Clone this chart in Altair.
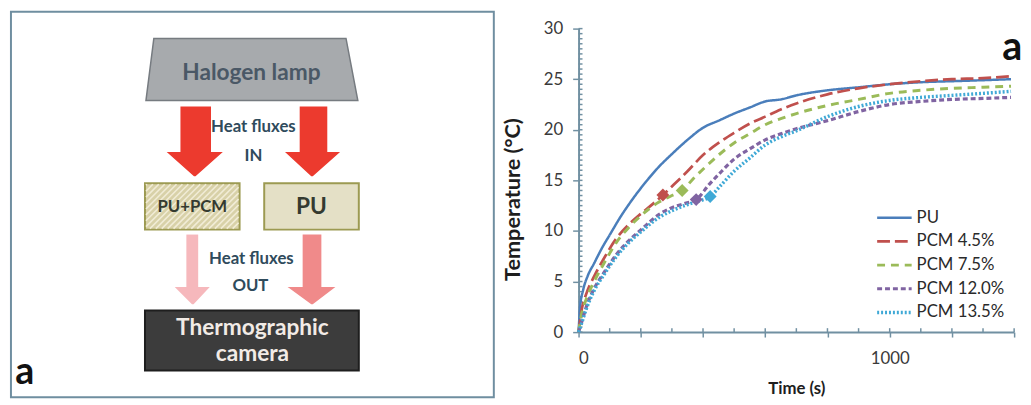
import altair as alt
import pandas as pd

# ---------------- chart data ----------------
SERIES = ["PU", "PCM 4.5%", "PCM 7.5%", "PCM 12.0%", "PCM 13.5%"]
COLORS = ["#4a7ebb", "#c0504d", "#9bbb59", "#8064a2", "#3fa9d6"]
DASHES = [[1, 0], [13, 5], [8, 6], [5, 3], [2, 2]]
WIDTHS = [2.5, 3.5, 2.5, 2.5, 2]

pu_t = [0, 5, 15, 30, 50, 75, 100, 135, 175, 215, 260, 300, 350, 400, 450, 500, 550, 600, 650, 700, 800, 900, 1000, 1100, 1200, 1300, 1390]
pu_v = [0, 2.5, 4.2, 5.6, 6.8, 8.3, 9.6, 11.4, 13.2, 14.8, 16.4, 17.6, 19.0, 20.2, 20.9, 21.6, 22.2, 22.8, 23.0, 23.4, 23.9, 24.2, 24.5, 24.7, 24.8, 24.9, 25.0]

p45_t = [0, 10, 25, 50, 80, 120, 160, 200, 240, 271, 300, 350, 400, 450, 500, 550, 600, 650, 700, 800, 900, 1000, 1100, 1200, 1300, 1390]
p45_v = [0, 2.2, 3.8, 5.5, 7.2, 9.2, 10.6, 11.7, 12.7, 13.55, 14.4, 15.9, 17.5, 18.7, 19.7, 20.6, 21.3, 22.0, 22.6, 23.5, 24.1, 24.5, 24.8, 25.0, 25.1, 25.3]

p75_t = [0, 10, 25, 50, 80, 120, 160, 200, 250, 300, 333, 370, 400, 450, 500, 550, 600, 650, 700, 800, 900, 1000, 1100, 1200, 1300, 1390]
p75_v = [0, 1.8, 3.3, 5.0, 6.7, 8.8, 10.3, 11.5, 12.7, 13.5, 14.0, 15.2, 16.1, 17.5, 18.7, 19.6, 20.5, 21.1, 21.6, 22.4, 23.0, 23.6, 23.9, 24.1, 24.2, 24.3]

p120_t = [0, 10, 25, 50, 80, 120, 160, 200, 262, 300, 340, 378, 420, 460, 500, 550, 600, 650, 700, 800, 900, 1000, 1100, 1200, 1300, 1390]
p120_v = [0, 1.0, 2.5, 4.3, 5.8, 7.6, 9.0, 10.1, 11.7, 12.3, 12.7, 13.1, 14.6, 15.9, 17.1, 18.1, 19.0, 19.6, 20.1, 20.9, 21.8, 22.5, 22.8, 23.0, 23.1, 23.2]

p135_t = [0, 10, 25, 50, 80, 120, 160, 200, 262, 300, 340, 380, 423, 460, 500, 550, 600, 650, 700, 800, 900, 1000, 1100, 1200, 1300, 1390]
p135_v = [0, 0.9, 2.3, 4.1, 5.6, 7.4, 8.8, 9.9, 11.4, 12.0, 12.5, 12.9, 13.4, 14.6, 15.9, 17.2, 18.5, 19.3, 19.9, 21.3, 22.3, 22.9, 23.2, 23.4, 23.6, 23.8]

marker_series = ["PCM 4.5%", "PCM 7.5%", "PCM 12.0%", "PCM 13.5%"]
marker_t = [271, 333, 378, 423]
marker_v = [13.55, 14.0, 13.1, 13.4]

Y_TICKS = [0, 5, 10, 15, 20, 25, 30]
Y_MINOR = [i * 0.5 for i in range(61)]
X_TICKS = list(range(0, 1401, 100))

# ---------------- diagram data (page-like coordinates) ----------------
rect_x = [10, 182, 303, 188, 306, 146, 267, 146]
rect_x2 = [500, 213, 331, 200, 325, 242, 363, 363]
rect_y = [7, 103, 103, 233, 233, 181, 181, 310]
rect_y2 = [398, 151, 151, 288, 288, 228, 228, 371]
rect_fill = ["#ffffff", "#ec3a2e", "#ec3a2e", "#f6b8bc", "#f08a8a", "#d8d1a8", "#e4e0c6", "#3c3c3c"]
rect_stroke = ["#6f8ea0", "#ec3a2e", "#ec3a2e", "#f6b8bc", "#f08a8a", "#9c9a52", "#9c9a52", "#1e1e1e"]
rect_sw = [2, 0, 0, 0, 0, 2, 2, 2]

# trapezoid and arrow heads as horizontal areas
shape_id = ["lamp", "lamp", "h1", "h1", "h2", "h2", "h3", "h3", "h4", "h4"]
shape_y = [34, 97, 150, 173, 150, 173, 287, 303, 287, 303]
shape_x = [155, 147, 170, 196, 290, 315, 178, 194, 293, 315]
shape_x2 = [350, 362, 223, 197, 342, 316, 210, 195, 337, 316]
shape_fill = ["#a7aaad", "#a7aaad", "#ec3a2e", "#ec3a2e", "#ec3a2e", "#ec3a2e", "#f6b8bc", "#f6b8bc", "#f08a8a", "#f08a8a"]
shape_stroke = ["#767b80", "#767b80", "#ec3a2e", "#ec3a2e", "#ec3a2e", "#ec3a2e", "#f6b8bc", "#f6b8bc", "#f08a8a", "#f08a8a"]

txt = ["Halogen lamp", "Heat fluxes", "IN", "Heat fluxes", "OUT", "Thermographic", "camera", "PU+PCM", "PU", "a"]
txt_x = [254, 256, 256, 254, 253, 255, 255, 194, 315, 24]
txt_y = [69, 124, 153, 258, 285, 328, 354, 205, 205, 374]
txt_size = [23, 17, 17, 17, 17, 23, 23, 17, 23, 38]
txt_col = ["#4a5866", "#2f4b5c", "#2f4b5c", "#2f4b5c", "#2f4b5c", "#f2ebe6", "#f2ebe6", "#343a30", "#343a30", "#111111"]

# hatching of the PU+PCM box
hx1, hx2, hy1, hy2 = [], [], [], []
for c in range(146 + 181 + 3, 242 + 228, 6):
    xa = max(146, c - 228)
    xb = min(242, c - 181)
    hx1.append(xa + 1)
    hy1.append(c - xa - 1)
    hx2.append(xb - 1)
    hy2.append(c - xb + 1)

FONT = "Lato"

# ---------------- left panel ----------------
XS = alt.Scale(domain=[10, 500], nice=False, zero=False)
YS = alt.Scale(domain=[24, 398], nice=False, zero=False, reverse=True)

rects = pd.DataFrame(dict(x=rect_x, x2=rect_x2, y=rect_y, y2=rect_y2, f=rect_fill, s=rect_stroke, sw=rect_sw))
shapes = pd.DataFrame(dict(id=shape_id, y=shape_y, x=shape_x, x2=shape_x2, f=shape_fill, s=shape_stroke))
texts = pd.DataFrame(dict(t=txt, x=txt_x, y=txt_y, fs=txt_size, c=txt_col))
hatch = pd.DataFrame(dict(x=hx1, x2=hx2, y=hy1, y2=hy2))

r_layer = alt.Chart(rects).mark_rect().encode(
    x=alt.X("x:Q", scale=XS, axis=None), x2="x2:Q",
    y=alt.Y("y:Q", scale=YS, axis=None), y2="y2:Q",
    fill=alt.Fill("f:N", scale=None), stroke=alt.Stroke("s:N", scale=None),
    strokeWidth=alt.StrokeWidth("sw:Q", scale=None),
)
s_layer = alt.Chart(shapes).mark_area(orient="horizontal", strokeWidth=1.5).encode(
    y=alt.Y("y:Q", scale=YS, axis=None),
    x=alt.X("x:Q", scale=XS, axis=None), x2="x2:Q",
    fill=alt.Fill("f:N", scale=None), stroke=alt.Stroke("s:N", scale=None),
    detail="id:N",
)
h_layer = alt.Chart(hatch).mark_rule(color="#f1ecd6", strokeWidth=1.6).encode(
    x=alt.X("x:Q", scale=XS, axis=None), x2="x2:Q",
    y=alt.Y("y:Q", scale=YS, axis=None), y2="y2:Q",
)
t_layer = alt.Chart(texts).mark_text(font=FONT, fontWeight="bold", baseline="middle", align="center").encode(
    x=alt.X("x:Q", scale=XS, axis=None), y=alt.Y("y:Q", scale=YS, axis=None),
    text="t:N", size=alt.Size("fs:Q", scale=None), fill=alt.Fill("c:N", scale=None),
)
left = alt.layer(r_layer, s_layer, h_layer, t_layer).properties(width=490, height=374)

# ---------------- right panel ----------------
rows = []
for name, ts, vs in zip(SERIES, [pu_t, p45_t, p75_t, p120_t, p135_t], [pu_v, p45_v, p75_v, p120_v, p135_v]):
    for t, v in zip(ts, vs):
        rows.append({"series": name, "t": t, "v": v})
lines = pd.DataFrame(rows)
markers = pd.DataFrame(dict(series=marker_series, t=marker_t, v=marker_v))
legend_df = pd.DataFrame(dict(series=SERIES, ly=[192 + 24 * i for i in range(len(SERIES))]))
minor = pd.DataFrame(dict(v=Y_MINOR))
xminor = pd.DataFrame(dict(t=X_TICKS))

AX = "#7190a2"
xs = alt.Scale(domain=[0, 1400], nice=False)
ys = alt.Scale(domain=[0, 30], nice=False)
cs = alt.Scale(domain=SERIES, range=COLORS)
ds = alt.Scale(domain=SERIES, range=DASHES)
ws = alt.Scale(domain=SERIES, range=WIDTHS)

xaxis = alt.Axis(values=X_TICKS, labelExpr="datum.value % 500 === 0 ? datum.label : ''", format="d",
                 labelOverlap=False, grid=False, domainColor=AX, domainWidth=2, tickColor=AX, tickWidth=1.5,
                 tickSize=5, labelFont=FONT, labelFontSize=17, labelColor="#3a3a3a", labelPadding=14,
                 title="Time (s)", titleFont=FONT, titleFontSize=17, titleFontWeight="bold",
                 titleColor="#1e1e1e", titlePadding=14)
yaxis = alt.Axis(values=Y_TICKS, grid=False, domainColor=AX, domainWidth=2, tickColor=AX, tickWidth=1.5,
                 tickSize=6, labelFont=FONT, labelFontSize=17, labelColor="#3a3a3a", labelPadding=10,
                 title="Temperature (°C)", titleFont=FONT, titleFontSize=22, titleFontWeight="bold",
                 titleColor="#1e1e1e", titleX=-67, titleY=173, titleAngle=270,
                 titleBaseline="middle", titleAlign="center")

line_layer = alt.Chart(lines).mark_line(interpolate="monotone").encode(
    x=alt.X("t:Q", scale=xs, axis=xaxis),
    y=alt.Y("v:Q", scale=ys, axis=yaxis),
    color=alt.Color("series:N", scale=cs, legend=None),
    strokeDash=alt.StrokeDash("series:N", scale=ds, legend=None),
    strokeWidth=alt.StrokeWidth("series:N", scale=ws, legend=None),
    order=alt.Order("t:Q"),
)
marker_layer = alt.Chart(markers).mark_point(shape="diamond", filled=True, size=170, opacity=1).encode(
    x="t:Q", y="v:Q", color=alt.Color("series:N", scale=cs, legend=None),
)
ytick_layer = alt.Chart(minor).mark_rule(color=AX, strokeWidth=1.5).encode(
    y="v:Q", x=alt.value(0), x2=alt.value(4),
)
xtick_layer = alt.Chart(xminor).mark_rule(color=AX, strokeWidth=1.5).encode(
    x="t:Q", y=alt.value(308), y2=alt.value(304),
)
leg_rule = alt.Chart(legend_df).mark_rule().encode(
    y=alt.Y("ly:Q", scale=None, axis=None), x=alt.value(303), x2=alt.value(338),
    color=alt.Color("series:N", scale=cs, legend=None),
    strokeDash=alt.StrokeDash("series:N", scale=ds, legend=None),
    strokeWidth=alt.StrokeWidth("series:N", scale=ws, legend=None),
)
leg_text = alt.Chart(legend_df).mark_text(font=FONT, fontSize=17, align="left", baseline="middle", color="#2a2a2a").encode(
    y=alt.Y("ly:Q", scale=None, axis=None), x=alt.value(343), text="series:N",
)
a_text = alt.Chart(pd.DataFrame({"t": ["a"]})).mark_text(font=FONT, fontSize=40, fontWeight="bold", align="center", baseline="middle", color="#111111").encode(
    x=alt.value(440), y=alt.value(20), text="t:N",
)

right = alt.layer(ytick_layer, xtick_layer, line_layer, marker_layer, leg_rule, leg_text, a_text).properties(width=442, height=308)

chart = alt.hconcat(left, right, spacing=7).resolve_scale(
    x="independent", y="independent", color="independent", fill="independent",
    stroke="independent", strokeWidth="independent", size="independent",
).properties(padding={"left": 2, "top": 0, "right": 0, "bottom": 0}).configure_view(stroke=None)

chart.save("out.html", embed_options={"renderer": "svg", "actions": False})
